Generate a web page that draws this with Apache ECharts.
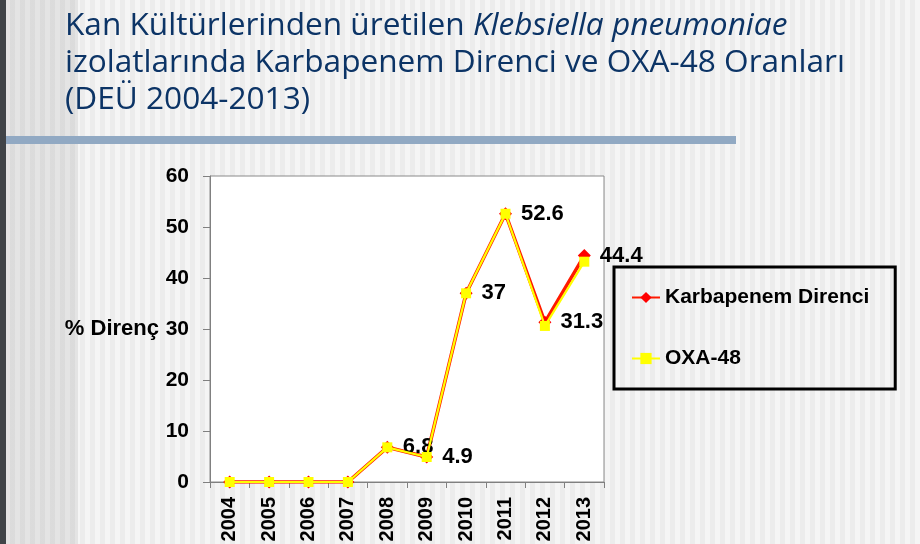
<!DOCTYPE html>
<html>
<head>
<meta charset="utf-8">
<script src="https://cdn.jsdelivr.net/npm/echarts@6/dist/echarts.min.js"></script>
<style>
html, body { margin: 0; padding: 0; }
body {
  width: 920px; height: 544px; overflow: hidden;
  background-color: #f2f2f2;
  background-image:
    linear-gradient(90deg, #404448 0 6px, transparent 6px),
    linear-gradient(90deg, transparent 6px, rgba(0,0,0,0.07) 6px 78px, transparent 78px),
    repeating-linear-gradient(90deg, #ececec 0 5px, #f5f5f5 5px 10px);
}
#chart { width: 920px; height: 544px; }
</style>
</head>
<body>
<div id="chart"></div>
<script>
const years = ['2004','2005','2006','2007','2008','2009','2010','2011','2012','2013'];
const karbapenem = [0, 0, 0, 0, 6.8, 4.9, 37, 52.6, 31.3, 44.4];
const oxa48 = [0, 0, 0, 0, 6.8, 4.9, 37, 52.6, 30.6, 43.2];
const seriesNames = ['Karbapenem Direnci', 'OXA-48'];
const yAxisName = '% Direnç';
const titleLines = [
  'Kan Kültürlerinden üretilen ',
  'Klebsiella pneumoniae',
  'izolatlarında Karbapenem Direnci ve OXA-48 Oranları',
  '(DEÜ 2004-2013)'
];

const chart = echarts.init(document.getElementById('chart'), null, { renderer: 'canvas' });
const FONT = '"Liberation Sans", Arial, sans-serif';
const TFONT = '"Open Sans", sans-serif';
const TCOL = '#0c3466';
const TSIZE = 31.6;

chart.setOption({
  animation: false,
  backgroundColor: 'transparent',
  graphic: [
    { type: 'rect', left: 6, top: 136, shape: { width: 730, height: 8 }, style: { fill: '#91a9c3' }, silent: true },
    { type: 'text', left: 65, top: 10, style: {
        text: '{n|' + titleLines[0] + '}{i|' + titleLines[1] + '}',
        rich: {
          n: { fontFamily: TFONT, fontSize: TSIZE, fill: TCOL },
          i: { fontFamily: TFONT, fontSize: TSIZE, fontStyle: 'italic', fill: TCOL }
        }
    } },
    { type: 'text', left: 65, top: 47, style: { text: titleLines[2], fontFamily: TFONT, fontSize: TSIZE, fill: TCOL } },
    { type: 'text', left: 65, top: 84, style: { text: titleLines[3], fontFamily: TFONT, fontSize: TSIZE, fill: TCOL } }
  ],
  grid: {
    left: 210, top: 176, right: 316, bottom: 62,
    containLabel: false, outerBoundsMode: 'none',
    show: true, backgroundColor: '#ffffff', borderColor: '#8a8a8a', borderWidth: 1
  },
  legend: {
    orient: 'vertical',
    left: 614, top: 267,
    padding: [20, 26, 20, 17],
    itemGap: 40,
    itemWidth: 28, itemHeight: 14,
    borderColor: '#000', borderWidth: 3,
    backgroundColor: 'transparent',
    textStyle: { fontFamily: FONT, fontSize: 21, fontWeight: 'bold', color: '#000' },
    data: seriesNames
  },
  xAxis: {
    type: 'category',
    data: years,
    boundaryGap: true,
    axisLine: { show: true, lineStyle: { color: '#808080', width: 1 } },
    axisTick: { show: true, length: 6, interval: 0, lineStyle: { color: '#808080' } },
    axisLabel: { interval: 0, rotate: 90, margin: 15, fontFamily: FONT, fontSize: 20, fontWeight: 'bold', color: '#000' },
    splitLine: { show: false }
  },
  yAxis: {
    type: 'value',
    min: 0, max: 60, interval: 10,
    name: yAxisName,
    nameLocation: 'middle',
    nameRotate: 0,
    nameGap: 51,
    nameTextStyle: { fontFamily: FONT, fontSize: 22, fontWeight: 'bold', color: '#000' },
    axisLine: { show: true, lineStyle: { color: '#808080', width: 1 } },
    axisTick: { show: true, length: 7, lineStyle: { color: '#808080' } },
    axisLabel: { margin: 21, fontFamily: FONT, fontSize: 21, fontWeight: 'bold', color: '#000' },
    splitLine: { show: false }
  },
  series: [
    {
      name: seriesNames[0],
      type: 'line',
      data: karbapenem,
      color: '#ff0000',
      symbol: 'diamond',
      symbolSize: 13,
      showAllSymbol: true,
      lineStyle: { color: '#ff1a00', width: 3.6 },
      itemStyle: { color: '#ff0000' },
      label: {
        show: true, position: 'right', distance: 9,
        formatter: p => (p.value > 0 ? String(p.value) : ''),
        fontFamily: FONT, fontSize: 22, fontWeight: 'bold', color: '#000'
      },
      z: 2
    },
    {
      name: seriesNames[1],
      type: 'line',
      data: oxa48,
      color: '#ffff00',
      symbol: 'rect',
      symbolSize: 10,
      showAllSymbol: true,
      lineStyle: { color: '#ffff00', width: 2.2 },
      itemStyle: { color: '#ffff00' },
      label: { show: false },
      z: 3
    }
  ]
});
</script>
</body>
</html>
